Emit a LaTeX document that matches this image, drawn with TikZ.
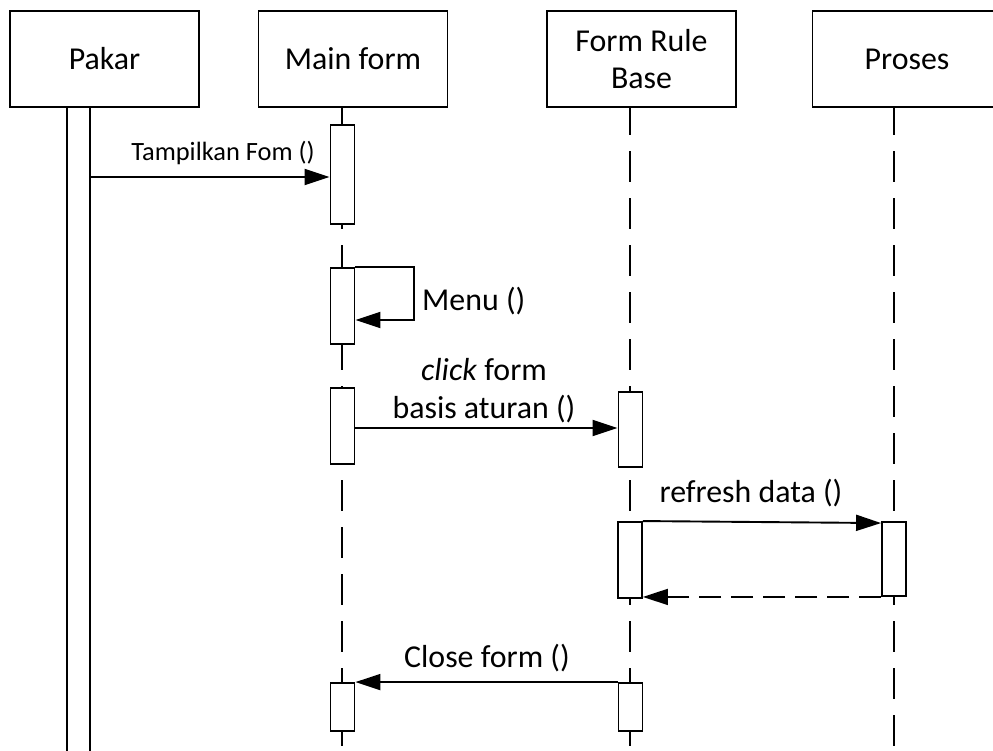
\documentclass[tikz,border=0pt]{standalone}
\usepackage{fontspec}
\setmainfont{Carlito}
\usetikzlibrary{arrows.meta,calc}
\begin{document}
\begin{tikzpicture}[x=1bp,y=-1bp,
  head/.style={draw, line width=1.9bp, minimum width=189bp, minimum height=96bp, inner sep=0pt, font=\fontsize{32}{38}\selectfont, align=center},
  bar/.style={draw, fill=white, line width=1.9bp, minimum width=24bp, inner sep=0pt},
  life/.style={line width=1.9bp, dash pattern=on 31bp off 16bp, dash phase=3bp},
  msg/.style={line width=1.9bp, -{Triangle[length=25bp,width=16bp]}},
  ret/.style={msg, dash pattern=on 22bp off 10bp},
  lbl/.style={font=\fontsize{32}{36}\selectfont, anchor=base, inner sep=0pt},
  slbl/.style={font=\fontsize{26.5}{30}\selectfont, anchor=base, inner sep=0pt}]
\useasboundingbox (0,0) rectangle (993,751);
\clip (0,0) rectangle (993,751);
% heads
\node[head] (pakar) at (104.5,59) {Pakar};
\node[head] (main) at (353,59) {Main form};
\node[head] (frb) at (641.5,59) {Form Rule\\Base};
\node[head] (proses) at (907,59) {Proses};
% lifeline tops / bottoms
\coordinate (mt) at (342,107);  \coordinate (mb) at (342,760);
\coordinate (ft) at (630,107);  \coordinate (fb) at (630,760);
\coordinate (pt) at (894,107);  \coordinate (pb) at (894,760);
\draw[life] (mt) -- (mb);
\draw[life] (ft) -- (fb);
\draw[life] (pt) -- (pb);
% Pakar activation (full length)
\node[bar, minimum width=23bp, minimum height=660bp] (pbar) at (78.5,437) {};
% activation bars
\node[bar, minimum height=99bp] (b1) at (342.5,174.5) {};
\node[bar, minimum height=76bp] (b2) at (342.5,306) {};
\node[bar, minimum height=76bp] (b3) at (342.5,426) {};
\node[bar, minimum height=75bp] (b4) at (630.5,429.5) {};
\node[bar, minimum height=76bp] (b5) at (630,560) {};
\node[bar, minimum height=74bp] (b6) at (894,559) {};
\node[bar, minimum height=48bp] (b7) at (342.5,707) {};
\node[bar, minimum height=48bp] (b8) at (630.5,707) {};
% messages
\coordinate (t0) at (pbar.east |- 0,177);
\draw[msg] (t0) -- (t0 -| b1.west);
\node[slbl] (l1) at (223,160) {Tampilkan Fom ()};
\coordinate (m1) at (414,320);
\draw[msg] (b2.north east) -| (m1) -- (m1 -| b2.east);
\node[lbl, anchor=base west] (l2) at (422,310) {Menu ()};
\coordinate (c0) at (b3.east |- 0,428);
\draw[msg] (c0) -- (c0 -| b4.west);
\node[lbl] (l3a) at (484,380) {\textit{click} form};
\node[lbl] (l3b) at (484,418) {basis aturan ()};
\draw[msg] (b5.north east) -- ($(b6.north west)+(0,2)$);
\node[lbl] (l4) at (751,502) {refresh data ()};
\draw[ret] (b6.south west) -- (b6.south west -| b5.east);
\draw[msg] (b8.north west) -- (b7.north east);
\node[lbl] (l5) at (487,667) {Close form ()};
\end{tikzpicture}
\end{document}
